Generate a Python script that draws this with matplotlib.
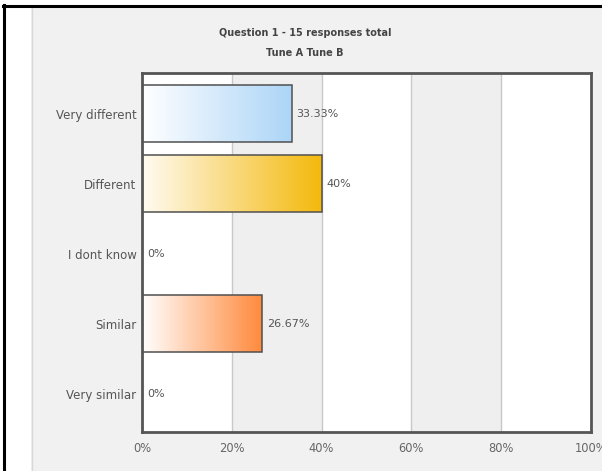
import numpy as np
import matplotlib.pyplot as plt
from matplotlib.colors import LinearSegmentedColormap
from matplotlib.patches import Rectangle
from matplotlib.lines import Line2D

# survey results
categories = ["Very different", "Different", "I dont know", "Similar", "Very similar"]
percents = [33.33, 40, 0, 26.67, 0]
value_labels = ["33.33%", "40%", "0%", "26.67%", "0%"]
tick_values = [0, 20, 40, 60, 80, 100]
tick_labels = ["0%", "20%", "40%", "60%", "80%", "100%"]
bar_colors = [("#ffffff", "#acd5f7"), ("#fffbf2", "#f4b90c"), ("#ffffff", "#ffffff"),
              ("#ffffff", "#ff8a3d"), ("#ffffff", "#ffffff")]

fig = plt.figure(figsize=(6.02, 4.71), dpi=100)
fig.patch.set_facecolor("white")

# grey chart panel with a black frame on the left and top
W, H = 602.0, 471.0
fig.patches.append(Rectangle((31 / W, 0), 1, (H - 7) / H, transform=fig.transFigure,
                             facecolor="#f1f1f1", edgecolor="none", zorder=-5))
fig.lines.append(Line2D([31.5 / W, 31.5 / W], [0, (H - 7) / H], transform=fig.transFigure,
                        color="#d8d8d8", lw=1, zorder=-4))
fig.lines.append(Line2D([4 / W, 4 / W], [0, (H - 5) / H], transform=fig.transFigure,
                        color="black", lw=2.2, zorder=-4))
fig.lines.append(Line2D([3 / W, 1], [(H - 6) / H, (H - 6) / H], transform=fig.transFigure,
                        color="black", lw=2.2, zorder=-4))

ax = fig.add_axes([142 / W, (H - 432) / H, (591 - 142) / W, (432 - 73) / H])

# alternating vertical bands and grid
for i in range(5):
    ax.axvspan(i * 20, (i + 1) * 20, color="white" if i % 2 == 0 else "#efefef", zorder=0, lw=0)
for v in tick_values[1:-1]:
    ax.axvline(v, color="#c8c8c8", lw=1, zorder=1)

ypos = np.arange(len(categories))
bars = ax.barh(ypos, percents, height=0.81, facecolor="none", edgecolor="#505050",
               lw=1.1, zorder=3)

for bar, (c0, c1), lab in zip(bars, bar_colors, value_labels):
    w = bar.get_width()
    y0 = bar.get_y()
    h = bar.get_height()
    if w > 0:
        cmap = LinearSegmentedColormap.from_list("g", [c0, c1])
        grad = np.linspace(0, 1, 256).reshape(1, -1)
        im = ax.imshow(grad, cmap=cmap, aspect="auto", extent=(0, w, y0 + h, y0),
                       zorder=2, interpolation="bilinear")
        im.set_clip_path(bar)
    ax.text(w + 1.1, y0 + h / 2, lab, va="center", ha="left", fontsize=8,
            color="#555555", zorder=4)

ax.set_xlim(0, 100)
ax.set_ylim(4.55, -0.58)
ax.set_yticks(ypos)
ax.set_yticklabels(categories, fontsize=8.5, color="#555555")
ax.set_xticks(tick_values)
ax.set_xticklabels(tick_labels, fontsize=8.3, color="#666666")
ax.tick_params(length=0, pad=4)
ax.tick_params(axis="x", pad=7)
for s in ax.spines.values():
    s.set_color("#555555")
    s.set_linewidth(2)
    s.set_zorder(5)

fig.text(305 / W, 1 - 33 / H, "Question 1 - 15 responses total", ha="center", va="center",
         fontsize=7, fontweight="bold", color="#444444")
fig.text(305 / W, 1 - 53 / H, "Tune A Tune B", ha="center", va="center",
         fontsize=7, fontweight="bold", color="#444444")

fig.savefig("out.png", dpi=100)
